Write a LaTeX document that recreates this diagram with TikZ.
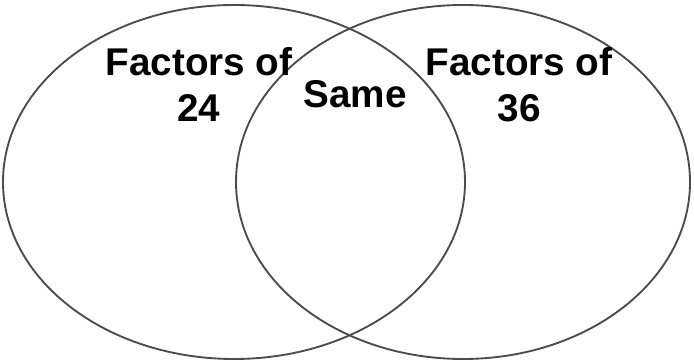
\documentclass[tikz,border=0pt]{standalone}
\usepackage{fontspec}
\setmainfont{Liberation Sans}
\usepackage{tikz}
\usetikzlibrary{positioning}

\begin{document}
\begin{tikzpicture}[
  set/.style={draw=black!70, line width=1.6pt},
  lbl/.style={anchor=base, align=center, inner sep=0pt,
    font=\fontsize{33}{40}\selectfont\bfseries}
]
\useasboundingbox (0,0) rectangle (20.82,10.86);

% the two sets
\draw[set] (7.02,5.40) ellipse [x radius=6.93, y radius=5.31];
\draw[set] (13.89,5.40) ellipse [x radius=6.81, y radius=5.31];

% labels
\node[lbl] (f24)  at (5.97,7.20)  {Factors of\\24};
\node[lbl] (same) at (10.65,7.62) {Same};
\node[lbl] (f36)  at (15.57,7.20) {Factors of\\36};
\end{tikzpicture}
\end{document}
